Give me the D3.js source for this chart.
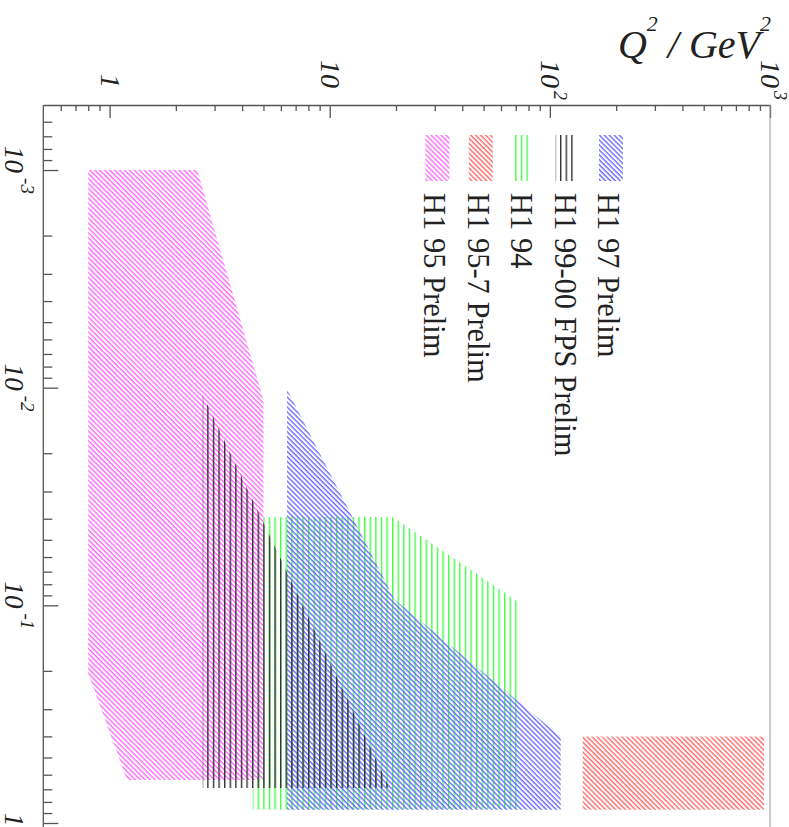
<!DOCTYPE html>
<html><head><meta charset="utf-8">
<script src="https://cdn.jsdelivr.net/npm/d3@7"></script>
<style>html,body{margin:0;padding:0;background:#fff;} svg{display:block;}</style>
</head><body>
<script>
// Kinematic coverage of H1 measurements in the (Q^2, x) plane, drawn rotated:
// Q^2 runs along the top axis, x runs down the left axis.

// Region outlines as [Q2 (GeV^2), x] vertices
const h1_97     = [[6.4,0.0102],[19.7,0.094],[112,0.40],[112,0.87],[6.4,0.87]];
const h1_99fps  = [[2.65,0.0108],[18.7,0.69],[2.65,0.69]];
const h1_94     = [[5,0.0393],[19.3,0.0393],[70.8,0.0955],[70.8,0.86],[4.47,0.87],[4.47,0.705],[5,0.52]];
const h1_957    = [[141,0.40],[940,0.40],[940,0.87],[141,0.87]];
const h1_95     = [[0.8,0.001],[2.5,0.001],[5,0.0114],[5,0.634],[1.2,0.634],[0.8,0.205]];

// Legend entries, top to bottom in the legend's own reading order
const seriesNames  = ["H1 97 Prelim","H1 99-00 FPS Prelim","H1 94","H1 95-7 Prelim","H1 95 Prelim"];
const seriesShapes = [h1_97, h1_99fps, h1_94, h1_957, h1_95];
const seriesColors = ["#6a6aff","#333333","#44ff44","#ff6a6a","#ff66ff"];
const seriesHatch  = ["diag","vert","vert","diag","diag"];
const drawOrder    = [4,3,2,0,1];

// Axis ticks and labels
const q2Major = [1,10,100,1000];
const q2Labels = [["1",""],["10",""],["10","2"],["10","3"]];
const xMajor = [1e-3,1e-2,1e-1,1];
const xLabels = [["10","-3"],["10","-2"],["10","-1"],["1",""]];

const W = 789, H = 827;
const svg = d3.select("body").append("svg").attr("width", W).attr("height", H);

const q2 = d3.scaleLog().domain([0.5, 1000]).range([43.3, 770]);
const xs = d3.scaleLog().domain([5e-4, 1]).range([104.5, 823]);
const axisY = 105, axisX = 43.3;

const defs = svg.append("defs");
defs.append("clipPath").attr("id","plot")
  .append("rect").attr("x",axisX).attr("y",axisY).attr("width",770-axisX).attr("height",H-axisY);

function hatchPattern(i){
  const id = "hatch" + i;
  if (seriesHatch[i] === "diag") {
    const p = defs.append("pattern").attr("id", id)
      .attr("patternUnits","userSpaceOnUse").attr("width", 10).attr("height", 3.5)
      .attr("patternTransform","rotate(45)");
    p.append("rect").attr("width",10).attr("height",1.4).attr("fill",seriesColors[i]);
  } else {
    const p = defs.append("pattern").attr("id", id)
      .attr("patternUnits","userSpaceOnUse").attr("width", 5.6).attr("height", 10);
    p.append("rect").attr("x",0).attr("width",1.4).attr("height",10).attr("fill",seriesColors[i]);
  }
  return "url(#" + id + ")";
}
const fills = seriesNames.map((_, i) => hatchPattern(i));

// Regions
const line = d3.line().x(d => q2(d[0])).y(d => xs(d[1]));
const plot = svg.append("g").attr("clip-path","url(#plot)");
plot.selectAll("path.region").data(drawOrder).join("path")
  .attr("class","region")
  .attr("d", i => line(seriesShapes[i]) + "Z")
  .attr("fill", i => fills[i])
  .attr("stroke","none");

// Minor tick values
function minors(lo, hi){
  const out = [];
  for (let e = Math.floor(Math.log10(lo)); e <= Math.ceil(Math.log10(hi)); e++)
    for (let m = 2; m <= 9; m++) {
      const v = m * Math.pow(10, e);
      if (v > lo * 1.0001 && v < hi * 0.9999) out.push(v);
    }
  return out;
}
const axisColor = "#555";

// Top (Q^2) axis with ticks pointing into the plot
const topMinor = svg.append("g").attr("transform",`translate(0,${axisY})`)
  .call(d3.axisBottom(q2).tickValues(minors(0.5,1000)).tickSize(6).tickSizeOuter(0).tickFormat(""));
const topMajor = svg.append("g").attr("transform",`translate(0,${axisY})`)
  .call(d3.axisBottom(q2).tickValues(q2Major).tickSize(13).tickSizeOuter(0).tickFormat(""));
topMinor.select(".domain").remove();

// Left (x) axis with ticks pointing into the plot
const leftMinor = svg.append("g").attr("transform",`translate(${axisX},0)`)
  .call(d3.axisRight(xs).tickValues(minors(5e-4,1)).tickSize(9).tickSizeOuter(0).tickFormat(""));
const leftMajor = svg.append("g").attr("transform",`translate(${axisX},0)`)
  .call(d3.axisRight(xs).tickValues(xMajor).tickSize(15).tickSizeOuter(0).tickFormat(""));
leftMinor.select(".domain").remove();
leftMajor.select(".domain").remove();
svg.append("line").attr("x1",axisX).attr("x2",axisX).attr("y1",axisY).attr("y2",H)
  .attr("stroke",axisColor).attr("stroke-width",1.3);
svg.append("line").attr("x1",q2.range()[1]).attr("x2",q2.range()[1]).attr("y1",axisY).attr("y2",H)
  .attr("stroke","#999").attr("stroke-width",1);
svg.selectAll(".tick line, .domain").attr("stroke",axisColor).attr("stroke-width",1.3);

const serif = "'Liberation Serif','Times New Roman',serif";

// Top axis labels (rotated, reading downward)
q2Major.forEach((v, i) => {
  const g = svg.append("g").attr("transform",`translate(${q2(v)-9},88) rotate(90)`);
  g.append("text").attr("text-anchor","end").attr("font-family",serif)
    .attr("font-style","italic").attr("font-size",28).attr("fill","#222").text(q2Labels[i][0]);
  if (q2Labels[i][1]) {
    g.append("text").attr("x",3).attr("y",-13).attr("text-anchor","start").attr("font-family",serif)
      .attr("font-style","italic").attr("font-size",18).attr("fill","#222").text(q2Labels[i][1]);
  }
});

// Left axis labels (rotated, centred on the tick; the last one kept inside the page)
xMajor.forEach((v, i) => {
  const last = i === xMajor.length - 1;
  const t = svg.append("text")
    .attr("transform",`translate(5,${last ? H - 0.5 : xs(v)}) rotate(90)`)
    .attr("text-anchor", last ? "end" : "middle").attr("font-family",serif).attr("font-style","italic")
    .attr("font-size",27).attr("fill","#222");
  t.append("tspan").text(xLabels[i][0]);
  if (xLabels[i][1]) t.append("tspan").attr("dx",5).attr("dy",-16).attr("font-size",19).text(xLabels[i][1]);
});

// Axis title
const title = svg.append("text").attr("x",771).attr("y",58).attr("text-anchor","end")
  .attr("font-family",serif).attr("font-style","italic").attr("font-size",40).attr("fill","#222");
title.append("tspan").text("Q");
title.append("tspan").attr("dy",-27).attr("font-size",22).text("2");
title.append("tspan").attr("dy",27).text(" / GeV");
title.append("tspan").attr("dy",-27).attr("font-size",22).text("2");

// Legend: hatched swatches with rotated labels
seriesNames.forEach((name, i) => {
  const x0 = 599 - i * 43.4;
  svg.append("rect").attr("x",x0).attr("y",135).attr("width",seriesHatch[i]==="vert"?19:24).attr("height",46)
    .attr("fill",fills[i]);
  svg.append("text").attr("transform",`translate(${x0-1},193) rotate(90)`)
    .attr("font-family",serif).attr("font-size",30.5).attr("fill","#222").text(name);
});
</script>
</body></html>
